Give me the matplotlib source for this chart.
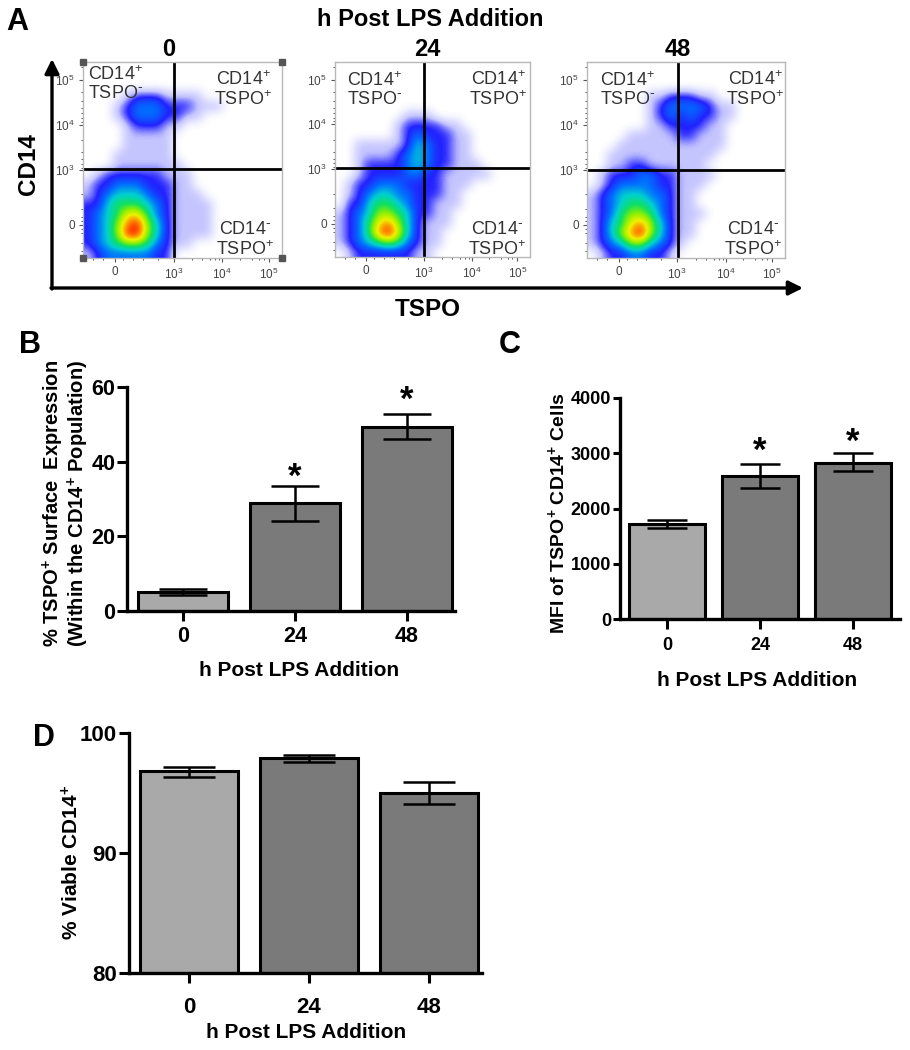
import matplotlib
matplotlib.use("Agg")
import matplotlib.pyplot as plt
from matplotlib.colors import LinearSegmentedColormap

plt.rcParams['font.family'] = ['Liberation Sans', 'DejaVu Sans']
plt.rcParams['mathtext.default'] = 'regular'

W, H = 910, 1050

# bar panels
hours = ['0', '24', '48']

tspo_pct = [5.1, 28.9, 49.4]
tspo_pct_low = [4.3, 24.2, 46.0]
tspo_pct_high = [5.9, 33.5, 52.8]
tspo_pct_star = [None, 35.9, 56.3]

mfi = [1720, 2590, 2830]
mfi_low = [1640, 2370, 2680]
mfi_high = [1800, 2810, 3000]
mfi_star = [None, 3040, 3200]

viable = [96.8, 97.9, 95.0]
viable_low = [96.3, 97.6, 94.1]
viable_high = [97.2, 98.2, 95.9]

# flow plots: density level per 10 px cell
# 0 = empty, 1 = sparse dots, 2 = blue ... 9 = red
density_0 = [
    [0, 0, 0, 0, 0, 0, 0, 0, 0, 0, 0, 0, 0, 0, 0, 0, 0, 0, 0, 0],
    [0, 0, 0, 0, 0, 0, 0, 0, 0, 0, 0, 0, 0, 0, 0, 0, 0, 0, 0, 0],
    [0, 0, 0, 0, 0, 0, 0, 0, 0, 0, 0, 0, 0, 0, 0, 0, 0, 0, 0, 0],
    [0, 0, 0, 0, 1, 2, 2, 2, 1, 1, 1, 1, 0, 0, 0, 0, 0, 0, 0, 0],
    [0, 0, 0, 1, 2, 3, 3, 3, 2, 2, 2, 1, 1, 1, 0, 0, 0, 0, 0, 0],
    [0, 0, 0, 1, 2, 3, 3, 3, 2, 2, 1, 1, 0, 0, 0, 0, 0, 0, 0, 0],
    [0, 0, 0, 0, 1, 2, 2, 2, 1, 1, 0, 0, 0, 0, 0, 0, 0, 0, 0, 0],
    [0, 0, 0, 0, 1, 1, 1, 1, 1, 0, 0, 0, 0, 0, 0, 0, 0, 0, 0, 0],
    [0, 0, 0, 0, 1, 1, 1, 1, 1, 0, 0, 0, 0, 0, 0, 0, 0, 0, 0, 0],
    [0, 0, 0, 1, 1, 1, 1, 1, 1, 0, 0, 0, 0, 0, 0, 0, 0, 0, 0, 0],
    [0, 0, 0, 1, 1, 1, 1, 1, 1, 1, 0, 0, 0, 0, 0, 0, 0, 0, 0, 0],
    [0, 1, 2, 2, 2, 2, 2, 2, 1, 1, 1, 0, 0, 0, 0, 0, 0, 0, 0, 0],
    [1, 2, 2, 3, 3, 3, 2, 2, 2, 1, 1, 0, 0, 0, 0, 0, 0, 0, 0, 0],
    [1, 2, 3, 4, 4, 4, 3, 2, 2, 1, 1, 1, 0, 0, 0, 0, 0, 0, 0, 0],
    [2, 2, 4, 5, 5, 5, 4, 3, 2, 1, 1, 1, 1, 0, 0, 0, 0, 0, 0, 0],
    [2, 3, 4, 5, 7, 7, 5, 3, 2, 1, 1, 1, 1, 0, 0, 0, 0, 0, 0, 0],
    [2, 3, 4, 6, 8, 9, 6, 4, 2, 1, 1, 1, 1, 0, 0, 0, 0, 0, 0, 0],
    [2, 3, 4, 6, 9, 9, 6, 4, 2, 1, 1, 1, 1, 0, 0, 0, 0, 0, 0, 0],
    [2, 3, 4, 5, 6, 6, 5, 3, 2, 1, 1, 0, 0, 0, 0, 0, 0, 0, 0, 0],
    [1, 2, 3, 3, 3, 3, 3, 2, 2, 0, 0, 0, 0, 0, 0, 0, 0, 0, 0, 0],
]
density_24 = [
    [0, 0, 0, 0, 0, 0, 0, 0, 0, 0, 0, 0, 0, 0, 0, 0, 0, 0, 0, 0],
    [0, 0, 0, 0, 0, 0, 0, 0, 0, 0, 0, 0, 0, 0, 0, 0, 0, 0, 0, 0],
    [0, 0, 0, 0, 0, 0, 0, 0, 0, 0, 0, 0, 0, 0, 0, 0, 0, 0, 0, 0],
    [0, 0, 0, 0, 0, 0, 0, 0, 0, 0, 0, 0, 0, 0, 0, 0, 0, 0, 0, 0],
    [0, 0, 0, 0, 0, 0, 0, 0, 0, 0, 0, 0, 0, 0, 0, 0, 0, 0, 0, 0],
    [0, 0, 0, 0, 0, 0, 0, 1, 1, 1, 0, 0, 0, 0, 0, 0, 0, 0, 0, 0],
    [0, 0, 0, 0, 0, 0, 1, 2, 2, 2, 2, 1, 1, 0, 0, 0, 0, 0, 0, 0],
    [0, 0, 0, 0, 0, 0, 1, 2, 3, 2, 2, 2, 1, 1, 0, 0, 0, 0, 0, 0],
    [0, 0, 1, 1, 1, 1, 1, 2, 4, 3, 2, 2, 1, 1, 0, 0, 0, 0, 0, 0],
    [0, 0, 1, 1, 1, 1, 2, 3, 4, 3, 2, 2, 1, 1, 0, 0, 0, 0, 0, 0],
    [0, 0, 1, 2, 2, 2, 2, 3, 4, 3, 2, 2, 1, 1, 1, 0, 0, 0, 0, 0],
    [0, 0, 1, 2, 2, 2, 2, 3, 3, 2, 2, 1, 1, 1, 1, 1, 0, 0, 0, 0],
    [0, 1, 2, 2, 3, 3, 3, 2, 2, 2, 2, 1, 1, 1, 0, 0, 0, 0, 0, 0],
    [0, 1, 2, 3, 4, 4, 3, 3, 2, 2, 2, 1, 1, 0, 0, 0, 0, 0, 0, 0],
    [0, 2, 2, 4, 5, 5, 4, 3, 2, 2, 1, 1, 1, 0, 0, 0, 0, 0, 0, 0],
    [1, 2, 3, 4, 6, 6, 5, 4, 2, 2, 1, 1, 0, 0, 0, 0, 0, 0, 0, 0],
    [1, 2, 3, 5, 7, 8, 6, 4, 2, 1, 1, 1, 0, 0, 0, 0, 0, 0, 0, 0],
    [1, 2, 3, 5, 8, 9, 7, 4, 2, 1, 1, 0, 0, 0, 0, 0, 0, 0, 0, 0],
    [1, 2, 3, 4, 5, 6, 5, 3, 2, 1, 1, 0, 0, 0, 0, 0, 0, 0, 0, 0],
    [0, 1, 2, 2, 2, 2, 2, 2, 1, 1, 0, 0, 0, 0, 0, 0, 0, 0, 0, 0],
]
density_48 = [
    [0, 0, 0, 0, 0, 0, 0, 0, 0, 0, 0, 0, 0, 0, 0, 0, 0, 0, 0, 0],
    [0, 0, 0, 0, 0, 0, 0, 0, 0, 0, 0, 0, 0, 0, 0, 0, 0, 0, 0, 0],
    [0, 0, 0, 0, 0, 0, 0, 0, 0, 0, 0, 0, 0, 0, 0, 0, 0, 0, 0, 0],
    [0, 0, 0, 0, 0, 0, 1, 1, 2, 2, 2, 1, 1, 0, 0, 0, 0, 0, 0, 0],
    [0, 0, 0, 0, 0, 0, 1, 2, 3, 3, 3, 3, 2, 1, 1, 0, 0, 0, 0, 0],
    [0, 0, 0, 0, 0, 0, 1, 2, 3, 2, 3, 2, 2, 1, 1, 0, 0, 0, 0, 0],
    [0, 0, 0, 0, 0, 0, 1, 1, 2, 2, 2, 2, 1, 1, 0, 0, 0, 0, 0, 0],
    [0, 0, 0, 0, 1, 1, 1, 1, 1, 2, 2, 1, 1, 1, 0, 0, 0, 0, 0, 0],
    [0, 0, 0, 1, 1, 1, 1, 1, 1, 1, 1, 1, 1, 1, 0, 0, 0, 0, 0, 0],
    [0, 0, 1, 1, 1, 1, 1, 1, 1, 1, 1, 1, 1, 0, 0, 0, 0, 0, 0, 0],
    [0, 0, 1, 1, 2, 2, 1, 1, 1, 1, 1, 1, 0, 0, 0, 0, 0, 0, 0, 0],
    [0, 1, 2, 2, 2, 3, 3, 2, 2, 1, 1, 1, 1, 0, 0, 0, 0, 0, 0, 0],
    [0, 1, 2, 3, 3, 3, 3, 2, 2, 1, 1, 1, 0, 0, 0, 0, 0, 0, 0, 0],
    [1, 2, 3, 4, 4, 4, 3, 3, 2, 1, 1, 0, 0, 0, 0, 0, 0, 0, 0, 0],
    [1, 2, 3, 4, 5, 5, 4, 3, 2, 1, 1, 0, 0, 0, 0, 0, 0, 0, 0, 0],
    [1, 2, 3, 5, 6, 6, 5, 3, 2, 1, 1, 1, 0, 0, 0, 0, 0, 0, 0, 0],
    [1, 2, 4, 5, 7, 8, 6, 4, 2, 1, 1, 0, 0, 0, 0, 0, 0, 0, 0, 0],
    [1, 2, 4, 6, 8, 9, 6, 4, 2, 1, 1, 0, 0, 0, 0, 0, 0, 0, 0, 0],
    [1, 2, 3, 4, 6, 6, 4, 3, 2, 1, 0, 0, 0, 0, 0, 0, 0, 0, 0, 0],
    [0, 1, 2, 2, 3, 3, 2, 2, 1, 0, 0, 0, 0, 0, 0, 0, 0, 0, 0, 0],
]

flow_x_major = [3.2, 9.1, 14.0, 18.7]
flow_x_minor = [1, 2, 4, 5, 6, 7.5, 11, 12, 12.8, 13.3, 13.7, 15.8, 17, 17.7, 18.2]
flow_x_labels = ['0', '$10^3$', '$10^4$', '$10^5$']
flow_y_major = [1.8, 6.4, 11.0, 16.6]
flow_y_minor = [0.5, 3.1, 4, 4.7, 5.2, 5.7, 6.1, 8, 9.2, 9.9, 10.4, 10.8,
                13.5, 15, 15.8, 16.2, 17, 17.4, 18.5, 19.3]
flow_y_labels = ['$10^5$', '$10^4$', '$10^3$', '0']

flow_cmap = LinearSegmentedColormap.from_list('flow', [
    '#ffffff', '#c4c4ff', '#2222ff', '#0070ff', '#00d0d0',
    '#10e060', '#90f000', '#f0f000', '#ff8000', '#ff1000'])


def axes_px(fig, left, top, right, bottom):
    return fig.add_axes([left / W, 1 - bottom / H, (right - left) / W, (bottom - top) / H])


fig = plt.figure(figsize=(W / 100, H / 100), dpi=100)


def flow_panel(left, top, right, bottom, density, vx, hy):
    ax = axes_px(fig, left, top, right, bottom)
    ax.imshow(density, cmap=flow_cmap, vmin=0, vmax=9, interpolation='bicubic',
              extent=(0, 20, 20, 0), aspect='auto')
    ax.set_xticks(flow_x_major, flow_x_labels, fontsize=8.5, color='#444444')
    ax.set_yticks(flow_y_major, flow_y_labels, fontsize=8.5, color='#444444')
    ax.set_xticks(flow_x_minor, minor=True)
    ax.set_yticks(flow_y_minor, minor=True)
    ax.tick_params(length=3, width=0.8, pad=3, color='#555555')
    ax.tick_params(which='minor', length=1.5, width=0.7, color='#555555')
    for s in ax.spines.values():
        s.set_color('#b8b8b8')
        s.set_linewidth(1)
    ax.axvline(vx, color='black', lw=2)
    ax.axhline(hy, color='black', lw=2)
    return ax


flow_panel(83, 62, 282, 258, density_0, 9.1, 10.9)
flow_panel(335, 62, 530, 257, density_24, 9.1, 10.9)
flow_panel(587, 62, 785, 258, density_48, 9.2, 11.0)

# everything placed by pixel goes on one overlay
ov = fig.add_axes([0, 0, 1, 1], facecolor='none')
ov.set_xlim(0, W)
ov.set_ylim(H, 0)
ov.axis('off')

ov.plot([83, 282, 83, 282], [62, 62, 258, 258], ls='none', marker='s', ms=4.5, color='#555555')

plus_minus = r'CD14$^{+}$' + '\n' + r'TSPO$^{\text{-}}$'
plus_plus = r'CD14$^{+}$' + '\n' + r'TSPO$^{+}$'
minus_plus = r'CD14$^{\text{-}}$' + '\n' + r'TSPO$^{+}$'
quad_labels = [
    (88, 84, 'left', plus_minus),
    (243, 90, 'center', plus_plus),
    (245, 240, 'center', minus_plus),
    (347, 90, 'left', plus_minus),
    (498, 90, 'center', plus_plus),
    (497, 240, 'center', minus_plus),
    (600, 90, 'left', plus_minus),
    (755, 90, 'center', plus_plus),
    (753, 240, 'center', minus_plus),
]
for x, y, ha, s in quad_labels:
    ov.text(x, y, s, fontsize=13, color='#333333', ha=ha, va='center', linespacing=1.1)

for x, s in zip([169, 427, 678], hours):
    ov.text(x, 50, s, fontsize=17, fontweight='bold', ha='center', va='center')
ov.text(430, 20, 'h Post LPS Addition', fontsize=17, fontweight='bold', ha='center', va='center')
ov.text(29, 164, 'CD14', fontsize=17.5, fontweight='bold', rotation=90, ha='center', va='center')
ov.text(428, 309, 'TSPO', fontsize=17.5, fontweight='bold', ha='center', va='center')

for x, y, s in [(17, 22, 'A'), (30, 345, 'B'), (510, 345, 'C'), (44, 738, 'D')]:
    ov.text(x, y, s, fontsize=22, fontweight='bold', ha='center', va='center')

arrow = dict(arrowstyle='-|>,head_length=0.66,head_width=0.33', lw=2.4, color='black',
             shrinkA=0, shrinkB=0, mutation_scale=13)
ov.annotate('', xy=(52, 59), xytext=(52, 289), arrowprops=arrow)
ov.annotate('', xy=(803, 288), xytext=(51, 288), arrowprops=arrow)


def bar_panel(box, xlim, ylim, yticks, values, low, high, stars, width, cap, fs, xpad, ypad, ylen):
    ax = axes_px(fig, *box)
    ax.patch.set_alpha(0)
    x = range(3)
    ax.bar(x, [v - ylim[0] for v in values], width=width, bottom=ylim[0],
           color=['#a9a9a9', '#7a7a7a', '#7a7a7a'], edgecolor='black', linewidth=2.2)
    err = [[v - l for v, l in zip(values, low)], [h - v for v, h in zip(values, high)]]
    ax.errorbar(x, values, yerr=err, fmt='none', ecolor='black', elinewidth=1.8,
                capsize=cap, capthick=1.8)
    for i, s in enumerate(stars):
        if s is not None:
            ax.text(i, s, '*', fontsize=25, fontweight='bold', ha='center', va='center')
    ax.set_xlim(*xlim)
    ax.set_ylim(*ylim)
    ax.set_xticks(list(x), hours, fontsize=fs, fontweight='bold')
    ax.set_yticks(yticks, [str(t) for t in yticks], fontsize=fs, fontweight='bold')
    ax.tick_params(axis='x', length=7, width=2.2, pad=xpad)
    ax.tick_params(axis='y', length=ylen, width=2.2, pad=ypad)
    ax.spines['top'].set_visible(False)
    ax.spines['right'].set_visible(False)
    ax.spines['left'].set_linewidth(2.4)
    ax.spines['bottom'].set_linewidth(2.4)
    return ax


bar_panel((127, 387, 455, 611), (-0.5, 2.43), (0, 60), [0, 20, 40, 60],
          tspo_pct, tspo_pct_low, tspo_pct_high, tspo_pct_star, 0.81, 17, 15.5, 4, 1.5, 7)
ov.text(53, 503, '% TSPO$^{+}$ Surface  Expression', fontsize=14.5, fontweight='bold',
        rotation=90, ha='center', va='center')
ov.text(78, 503, '(Within the CD14$^{+}$ Population)', fontsize=14.5, fontweight='bold',
        rotation=90, ha='center', va='center')
ov.text(299, 671, 'h Post LPS Addition', fontsize=15, fontweight='bold', ha='center', va='center')

bar_panel((620, 398, 900, 619), (-0.505, 2.505), (0, 4000), [0, 1000, 2000, 3000, 4000],
          mfi, mfi_low, mfi_high, mfi_star, 0.82, 14.5, 13, 6, 1.5, 5)
ov.text(557, 513, 'MFI of TSPO$^{+}$ CD14$^{+}$ Cells', fontsize=14, fontweight='bold',
        rotation=90, ha='center', va='center')
ov.text(757, 680, 'h Post LPS Addition', fontsize=15, fontweight='bold', ha='center', va='center')

bar_panel((129, 733, 482, 973), (-0.5, 2.44), (80, 100), [80, 90, 100],
          viable, viable_low, viable_high, [None, None, None], 0.82, 18.5, 16, 10, 1.5, 7)
ov.text(72, 862, '% Viable CD14$^{+}$', fontsize=15, fontweight='bold',
        rotation=90, ha='center', va='center')
ov.text(306, 1033, 'h Post LPS Addition', fontsize=15, fontweight='bold', ha='center', va='center')

fig.savefig('out.png', dpi=100)
